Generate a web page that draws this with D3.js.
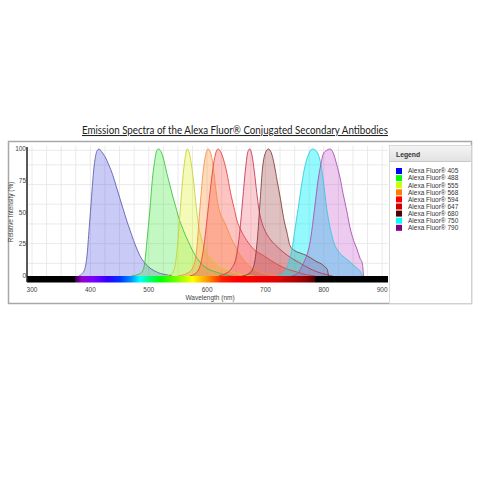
<!DOCTYPE html>
<html><head><meta charset="utf-8">
<script src="https://cdn.jsdelivr.net/npm/d3@7"></script>
<style>body{margin:0;background:#fff}svg{display:block}</style>
</head><body>
<svg id="c" width="500" height="500"></svg>
<script>
// ---------- data ----------
const titleText = "Emission Spectra of the Alexa Fluor\u00AE Conjugated Secondary Antibodies";
const dyes = ["Alexa Fluor\u00AE 405","Alexa Fluor\u00AE 488","Alexa Fluor\u00AE 555","Alexa Fluor\u00AE 568","Alexa Fluor\u00AE 594","Alexa Fluor\u00AE 647","Alexa Fluor\u00AE 680","Alexa Fluor\u00AE 750","Alexa Fluor\u00AE 790"];
const xTicks = [300,400,500,600,700,800,900];
const yTicks = [0,25,50,75,100];
const xGrid = d3.range(300, 901, 25);
const yGrid = [10,25.5,41,56.5,72,87.5,99];
const af405 = [[380,0],[386,2],[390,5],[394,15],[398,38],[402,62],[405,80],[408,92],[412,99],[415,100],[419,98],[425,94],[432,87],[438,80],[444,71],[450,62],[456,53],[462,44],[468,36],[474,28],[480,21],[486,15],[492,11],[500,7],[510,4],[520,2],[530,1],[540,0]];
const af488 = [[470,0],[480,1],[488,3],[493,10],[497,28],[502,52],[506,75],[510,90],[514,99],[517,100],[521,98],[526,91],[531,81],[536,72],[541,63],[546,55],[550,48],[556,40],[562,33],[568,27],[574,21],[580,16],[586,12],[594,8],[604,5],[616,3],[630,1],[645,0]];
const af555 = [[530,0],[540,2],[545,8],[549,22],[554,52],[558,75],[562,92],[566,100],[570,96],[574,85],[578,70],[582,52],[586,38],[590,30],[594,24],[600,18],[606,14],[614,10],[622,7],[632,5],[644,3],[660,1],[680,0]];
const af568 = [[550,0],[565,2],[575,6],[582,20],[588,55],[594,85],[599,98],[602,100],[606,97],[610,88],[614,72],[618,58],[622,50],[628,44],[634,38],[640,31],[648,24],[656,17],[666,11],[678,6],[690,3],[705,1],[720,0]];
const af594 = [[570,0],[580,2],[588,8],[594,22],[600,45],[606,70],[611,88],[615,97],[619,100],[623,98],[628,92],[634,81],[640,66],[646,54],[651,44],[658,36],[668,28],[680,21],[697,16],[710,12],[725,8],[740,5],[755,3],[770,1],[785,0]];
const af647 = [[620,0],[632,2],[642,6],[650,15],[656,35],[661,60],[666,85],[670,98],[673,100],[677,95],[681,82],[685,66],[689,52],[694,42],[700,35],[708,29],[718,24],[730,19],[745,14],[760,10],[775,6],[790,3],[805,1],[815,0]];
const af680 = [[660,0],[672,2],[680,8],[686,28],[691,60],[695,85],[700,97],[705,100],[710,97],[715,88],[720,75],[726,60],[731,46],[737,34],[742,24],[750,20],[760,18],[771,16],[785,12],[800,8],[806,5],[808,0]];
const af750 = [[720,0],[730,2],[738,8],[745,20],[750,35],[756,53],[762,72],[768,87],[774,96],[780,100],[786,99],[791,95],[795,88],[800,72],[805,53],[810,40],[816,28],[824,20],[832,16],[840,13],[850,9],[857,6],[862,4],[866,0]];
const af790 = [[745,0],[755,2],[765,10],[772,18],[777,28],[782,45],[786,60],[790,75],[795,88],[799,96],[805,99],[811,100],[816,97],[822,88],[828,77],[833,65],[839,52],[845,38],[851,28],[857,21],[862,14],[866,10],[868,0]];
const spectra = [af405, af488, af555, af568, af594, af647, af680, af750, af790];
// spectrum bar stops (wavelength)
const barStopsNm = [374,385,405,430,450,470,485,500,520,550,575,600,625,650,720,770,785];

// ---------- styles ----------
const legendColors = ["#0000ff","#00ff00","#ccff00","#ff8000","#ff0000","#cc0000","#4d0000","#00ffff","#800080"];
const fillColors = ["rgba(80,80,225,0.30)","rgba(40,230,40,0.28)","rgba(225,245,60,0.36)","rgba(255,150,60,0.34)","rgba(250,60,50,0.30)","rgba(240,80,100,0.28)","rgba(150,50,50,0.30)","rgba(0,240,250,0.42)","rgba(190,70,200,0.28)"];
const strokeColors = ["#5858b0","#38c038","#c8d030","#f09040","#e04040","#c03050","#803838","#30c8d8","#a848a8"];
const barColors = ["#3a0050","#9400c8","#7a00ff","#3000ff","#0030ff","#0090ff","#00ffff","#00ff80","#00ff00","#80ff00","#ffff00","#ff9900","#ff2000","#ff0000","#e00000","#900000","#500000"];

const svg = d3.select("#c");
const font = "Liberation Sans, Arial, sans-serif";

// outer frame
svg.append("rect").attr("x",8.5).attr("y",141.5).attr("width",463).attr("height",162)
  .attr("fill","#fff").attr("stroke","#a8a8a8").attr("stroke-width",1.5);

// title
svg.append("text").attr("x",235).attr("y",134).attr("text-anchor","middle")
  .attr("font-family","Lato, 'Open Sans', sans-serif").attr("font-size",10.5).attr("fill","#222")
  .attr("text-decoration","underline").attr("textLength",306).attr("lengthAdjust","spacingAndGlyphs")
  .text(titleText);

const x = d3.scaleLinear().domain([291.4, 910]).range([27, 388]);
const y = d3.scaleLinear().domain([0, 100]).range([276, 149]);

// grid
const g = svg.append("g");
g.selectAll(".vg").data(xGrid).join("line")
  .attr("x1",d=>x(d)).attr("x2",d=>x(d)).attr("y1",146).attr("y2",276)
  .attr("stroke","#e4e4e4").attr("stroke-width",0.8);
g.selectAll(".hg").data(yGrid).join("line")
  .attr("x1",27).attr("x2",388).attr("y1",d=>y(d)).attr("y2",d=>y(d))
  .attr("stroke","#e4e4e4").attr("stroke-width",0.8);

// areas
const area = d3.area().x(d=>x(d[0])).y0(y(0)).y1(d=>y(d[1])).curve(d3.curveMonotoneX);
const line = d3.line().x(d=>x(d[0])).y(d=>y(d[1])).curve(d3.curveMonotoneX);
spectra.forEach((s,i)=>{
  svg.append("path").attr("d",area(s)).attr("fill",fillColors[i]);
});
spectra.forEach((s,i)=>{
  svg.append("path").attr("d",line(s)).attr("fill","none").attr("stroke",strokeColors[i]).attr("stroke-width",0.85);
});

// spectrum bar
const defs = svg.append("defs");
const grad = defs.append("linearGradient").attr("id","spec").attr("gradientUnits","userSpaceOnUse")
  .attr("x1",x(291.4)).attr("x2",x(910)).attr("y1",0).attr("y2",0);
const totalW = x(910)-x(291.4);
grad.append("stop").attr("offset",0).attr("stop-color","#000");
grad.append("stop").attr("offset",(x(barStopsNm[0]-1)-x(291.4))/totalW).attr("stop-color","#000");
barStopsNm.forEach((nm,i)=>{
  grad.append("stop").attr("offset",(x(nm)-x(291.4))/totalW).attr("stop-color",barColors[i]);
});
grad.append("stop").attr("offset",(x(786)-x(291.4))/totalW).attr("stop-color","#000");
grad.append("stop").attr("offset",1).attr("stop-color","#000");
svg.append("rect").attr("x",x(291.4)).attr("y",276).attr("width",totalW).attr("height",6.5).attr("fill","url(#spec)");

// y axis line
svg.append("line").attr("x1",27).attr("x2",27).attr("y1",147).attr("y2",282).attr("stroke","#222").attr("stroke-width",1.5);

// tick labels
svg.selectAll(".xt").data(xTicks).join("text")
  .attr("x",d=>x(d)).attr("y",292).attr("text-anchor","middle")
  .attr("font-family",font).attr("font-size",6.5).attr("fill","#444").text(d=>d);
svg.selectAll(".yt").data(yTicks).join("text")
  .attr("x",26).attr("y",d=>y(d)+2.2).attr("text-anchor","end")
  .attr("font-family",font).attr("font-size",6.5).attr("fill","#444").text(d=>d);

svg.append("text").attr("x",210).attr("y",300).attr("text-anchor","middle")
  .attr("font-family",font).attr("font-size",6.5).attr("fill","#444").text("Wavelength (nm)");
svg.append("text").attr("transform","translate(13,212) rotate(-90)").attr("text-anchor","middle")
  .attr("font-family",font).attr("font-size",6.4).attr("fill","#444").text("Relative Intensity (%)");

// legend
const lg = svg.append("g");
const hg = defs.append("linearGradient").attr("id","hdr").attr("x1",0).attr("x2",0).attr("y1",0).attr("y2",1);
hg.append("stop").attr("offset",0).attr("stop-color","#f4f4f4");
hg.append("stop").attr("offset",1).attr("stop-color","#e2e2e2");
lg.append("rect").attr("x",389.5).attr("y",145.5).attr("width",82).attr("height",158).attr("fill","#fff").attr("stroke","#d0d0d0").attr("stroke-width",0.8);
lg.append("rect").attr("x",390).attr("y",146).attr("width",81).attr("height",15).attr("fill","url(#hdr)");
lg.append("line").attr("x1",390).attr("x2",471).attr("y1",161.5).attr("y2",161.5).attr("stroke","#c8c8c8");
lg.append("text").attr("x",396).attr("y",157).attr("font-family",font).attr("font-size",6.8).attr("font-weight","bold").attr("fill","#333").text("Legend");
const items = lg.selectAll(".li").data(dyes).join("g").attr("transform",(d,i)=>`translate(396,${168 + i*7.1})`);
items.append("rect").attr("x",0).attr("y",0).attr("width",6).attr("height",6).attr("fill",(d,i)=>legendColors[i]);
items.append("text").attr("x",12).attr("y",5.3).attr("font-family",font).attr("font-size",6.5).attr("fill","#333").text(d=>d);
</script>
</body></html>
